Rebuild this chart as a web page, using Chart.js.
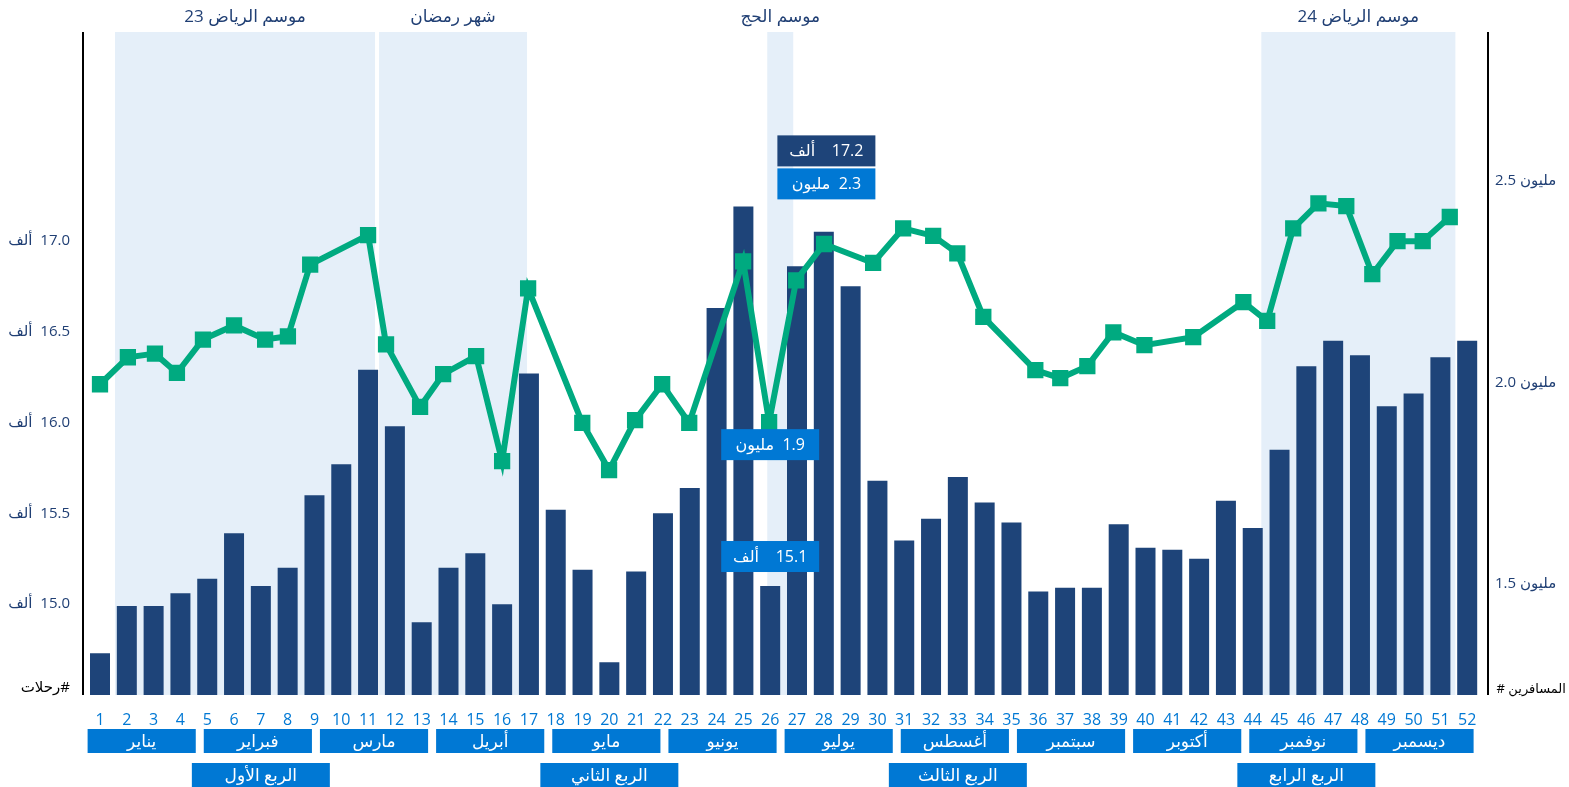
<!DOCTYPE html>
<html lang="ar">
<head>
<meta charset="utf-8">
<script src="https://cdn.jsdelivr.net/npm/chart.js@4.4.1/dist/chart.umd.min.js"></script>
<style>
  html, body { margin: 0; padding: 0; background: #fff; }
  #wrap { width: 1569px; height: 787px; }
</style>
</head>
<body>
<div id="wrap"><canvas id="tripsChart" width="1569" height="787"></canvas></div>
<script>
const weeks = Array.from({ length: 52 }, (_, i) => String(i + 1));

// عدد الرحلات الأسبوعية (بالألف)
const trips = [
  14.73, 14.99, 14.99, 15.06, 15.14, 15.39, 15.10, 15.20, 15.60, 15.77,
  16.29, 15.98, 14.90, 15.20, 15.28, 15.00, 16.27, 15.52, 15.19, 14.68,
  15.18, 15.50, 15.64, 16.63, 17.19, 15.10, 16.86, 17.05, 16.75, 15.68,
  15.35, 15.47, 15.70, 15.56, 15.45, 15.07, 15.09, 15.09, 15.44, 15.31,
  15.30, 15.25, 15.57, 15.42, 15.85, 16.31, 16.45, 16.37, 16.09, 16.16,
  16.36, 16.45
];

// عدد المسافرين (بالمليون) وموضع كل نقطة على محور الأسابيع
const paxWeeks = [
  1.00, 2.04, 3.05, 3.87, 4.84, 6.00, 7.16, 8.01, 8.84, 11.00,
  11.67, 12.94, 13.80, 15.03, 16.00, 16.97, 18.99, 19.99, 20.96, 21.97,
  22.98, 24.99, 25.96, 26.97, 28.01, 29.84, 30.96, 32.08, 32.98, 33.95,
  35.89, 36.82, 37.83, 38.80, 39.96, 41.78, 43.65, 44.54, 45.51, 46.45,
  47.49, 48.46, 49.40, 50.34, 51.35
];
const paxValues = [
  1.996, 2.063, 2.072, 2.024, 2.107, 2.142, 2.107, 2.115, 2.293, 2.366,
  2.095, 1.940, 2.021, 2.066, 1.805, 2.234, 1.900, 1.783, 1.907, 1.996,
  1.900, 2.301, 1.902, 2.254, 2.344, 2.297, 2.383, 2.364, 2.321, 2.163,
  2.031, 2.011, 2.041, 2.125, 2.093, 2.113, 2.200, 2.153, 2.383, 2.445,
  2.438, 2.269, 2.351, 2.351, 2.411
];

const tripTicks = [15.0, 15.5, 16.0, 16.5, 17.0];
const paxTicks = [1.5, 2.0, 2.5];

const months = ['يناير', 'فبراير', 'مارس', 'أبريل', 'مايو', 'يونيو',
  'يوليو', 'أغسطس', 'سبتمبر', 'أكتوبر', 'نوفمبر', 'ديسمبر'];
const quarters = ['الربع الأول', 'الربع الثاني', 'الربع الثالث', 'الربع الرابع'];

// المواسم (بداية ونهاية بوحدة الأسبوع)
const seasonNames = ['موسم الرياض 23', 'شهر رمضان', 'موسم الحج', 'موسم الرياض 24'];
const seasonStart = [1.56, 11.41, 25.89, 44.32];
const seasonEnd = [11.26, 16.93, 26.86, 51.56];

const peakWeek = 25;
const hajjWeek = 26;

const FONT = '"Open Sans", "DejaVu Sans", sans-serif';
const NAVY = '#1e4479';
const BLUE = '#0078d4';
const GREEN = '#00aa80';
const SHADE = '#e5eff9';
const TEXT = '#203f74';
const LRM = '\u200E';

// الكلمة العربية يسارا والرقم يمينا كما في الأصل
const withUnit = (unit, v, gap) => unit + LRM + gap + v.toFixed(1);

function drawBox(ctx, x, y, w, h, fill, text) {
  ctx.fillStyle = fill;
  ctx.fillRect(x, y, w, h);
  ctx.fillStyle = '#fff';
  ctx.textAlign = 'center';
  ctx.textBaseline = 'middle';
  ctx.fillText(text, x + w / 2, y + h / 2 + 1);
}

function nearestPax(week) {
  let best = 0;
  paxWeeks.forEach((w, i) => {
    if (Math.abs(w - week) < Math.abs(paxWeeks[best] - week)) best = i;
  });
  return best;
}

// موضع أسبوع (قد يكون كسريا) على محور الفئات
function weekPx(scale, w) {
  return scale.getPixelForValue(w - 1);
}

const decorPlugin = {
  id: 'decor',
  beforeDatasetsDraw(chart) {
    const { ctx, chartArea: a, scales } = chart;
    ctx.save();
    ctx.fillStyle = SHADE;
    seasonNames.forEach((n, i) => {
      const x0 = weekPx(scales.x, seasonStart[i]);
      const x1 = weekPx(scales.x, seasonEnd[i]);
      ctx.fillRect(x0, a.top, x1 - x0, a.bottom - a.top);
    });
    ctx.restore();
  },
  afterDraw(chart) {
    const { ctx, chartArea: a, scales } = chart;
    const x = scales.x, y = scales.y, y2 = scales.y2;
    ctx.save();
    ctx.direction = 'ltr';

    // خطوط المحاور
    ctx.strokeStyle = '#000';
    ctx.lineWidth = 2;
    ctx.beginPath();
    ctx.moveTo(a.left - 3.6, a.top);
    ctx.lineTo(a.left - 3.6, a.bottom);
    ctx.moveTo(a.right + 7.4, a.top);
    ctx.lineTo(a.right + 7.4, a.bottom);
    ctx.stroke();

    // أسماء المواسم
    ctx.font = '17px ' + FONT;
    ctx.fillStyle = TEXT;
    ctx.textAlign = 'center';
    ctx.textBaseline = 'middle';
    seasonNames.forEach((n, i) => {
      const cx = (weekPx(x, seasonStart[i]) + weekPx(x, seasonEnd[i])) / 2;
      ctx.fillText(n, cx, 17);
    });

    // عناوين المحاور
    ctx.font = '15px ' + FONT;
    ctx.fillStyle = '#000';
    ctx.textAlign = 'right';
    ctx.fillText('رحلات' + LRM + '#', a.left - 16.6, a.bottom - 7);
    ctx.font = '13px ' + FONT;
    ctx.textAlign = 'left';
    ctx.fillText('#' + LRM + ' المسافرين', a.right + 16, a.bottom - 6);

    // الأشهر
    ctx.font = '17px ' + FONT;
    const step = 52 / months.length;
    months.forEach((m, i) => {
      const x0 = weekPx(x, 0.5 + i * step) + 1;
      const x1 = weekPx(x, 0.5 + (i + 1) * step) - 7;
      drawBox(ctx, x0, a.bottom + 34, x1 - x0, 24, BLUE, m);
    });

    // الأرباع
    quarters.forEach((q, i) => {
      const cx = weekPx(x, 0.5 + (i + 0.5) * 13);
      drawBox(ctx, cx - 69, a.bottom + 68, 138, 24, BLUE, q);
    });

    // تعليقات الذروة وموسم الحج
    ctx.font = '16px ' + FONT;
    const pk = peakWeek - 1;
    const pkTop = y.getPixelForValue(trips[pk]);
    const pkPax = paxValues[nearestPax(peakWeek)];
    const px = x.getPixelForValue(pk) + 34;
    drawBox(ctx, px, pkTop - 71, 98, 31, NAVY, withUnit('ألف', trips[pk], '    '));
    drawBox(ctx, px, pkTop - 38, 98, 31, BLUE, withUnit('مليون', pkPax, '  '));

    const hj = hajjWeek - 1;
    const hjTop = y.getPixelForValue(trips[hj]);
    const hjIdx = nearestPax(hajjWeek);
    const hjPaxY = y2.getPixelForValue(paxValues[hjIdx]);
    const hx = x.getPixelForValue(hj) - 49;
    drawBox(ctx, hx, hjPaxY + 7, 98, 31, BLUE, withUnit('مليون', paxValues[hjIdx], '  '));
    drawBox(ctx, hx, hjTop - 45, 98, 31, BLUE, withUnit('ألف', trips[hj], '    '));

    ctx.restore();
  }
};

Chart.defaults.font.family = FONT;
Chart.defaults.font.size = 15;

const ctx = document.getElementById('tripsChart').getContext('2d');
new Chart(ctx, {
  type: 'bar',
  data: {
    labels: weeks,
    datasets: [
      {
        type: 'line',
        label: 'المسافرين',
        data: paxWeeks.map((w, i) => ({ x: w, y: paxValues[i] })),
        xAxisID: 'x2',
        yAxisID: 'y2',
        borderColor: GREEN,
        backgroundColor: GREEN,
        borderWidth: 6,
        pointStyle: 'rect',
        pointRadius: 11.5,
        pointBorderWidth: 0,
        pointBackgroundColor: GREEN,
        tension: 0
      },
      {
        label: 'رحلات',
        data: trips,
        xAxisID: 'x',
        yAxisID: 'y',
        backgroundColor: NAVY,
        grouped: false,
        barPercentage: 0.746,
        categoryPercentage: 1
      }
    ]
  },
  options: {
    responsive: false,
    devicePixelRatio: 1,
    animation: false,
    layout: { padding: { top: 32, left: 0, right: 0, bottom: 0 } },
    plugins: { legend: { display: false }, tooltip: { enabled: false } },
    scales: {
      x: {
        type: 'category',
        offset: true,
        grid: { display: false, drawTicks: false },
        border: { display: false },
        ticks: { color: BLUE, font: { size: 16 }, padding: 16, maxRotation: 0, autoSkip: false },
        afterFit: s => { s.height = 92; }
      },
      x2: {
        type: 'linear',
        display: false,
        offset: false,
        grid: { offset: false },
        min: 0.5,
        max: 52.5
      },
      y: {
        position: 'left',
        min: 14.5,
        max: 18.15,
        grid: { display: false, drawTicks: false },
        border: { display: false },
        afterBuildTicks: s => { s.ticks = tripTicks.map(v => ({ value: v })); },
        ticks: { color: TEXT, padding: 16.6, callback: v => withUnit('ألف', v, '  ') },
        afterFit: s => { s.width = 86.6; }
      },
      y2: {
        position: 'right',
        min: 1.225,
        max: 2.87,
        grid: { display: false, drawTicks: false },
        border: { display: false },
        afterBuildTicks: s => { s.ticks = paxTicks.map(v => ({ value: v })); },
        ticks: { color: TEXT, padding: 14.4, callback: v => v.toFixed(1) + ' مليون' },
        afterFit: s => { s.width = 88.4; }
      }
    }
  },
  plugins: [decorPlugin]
});
</script>
</body>
</html>
